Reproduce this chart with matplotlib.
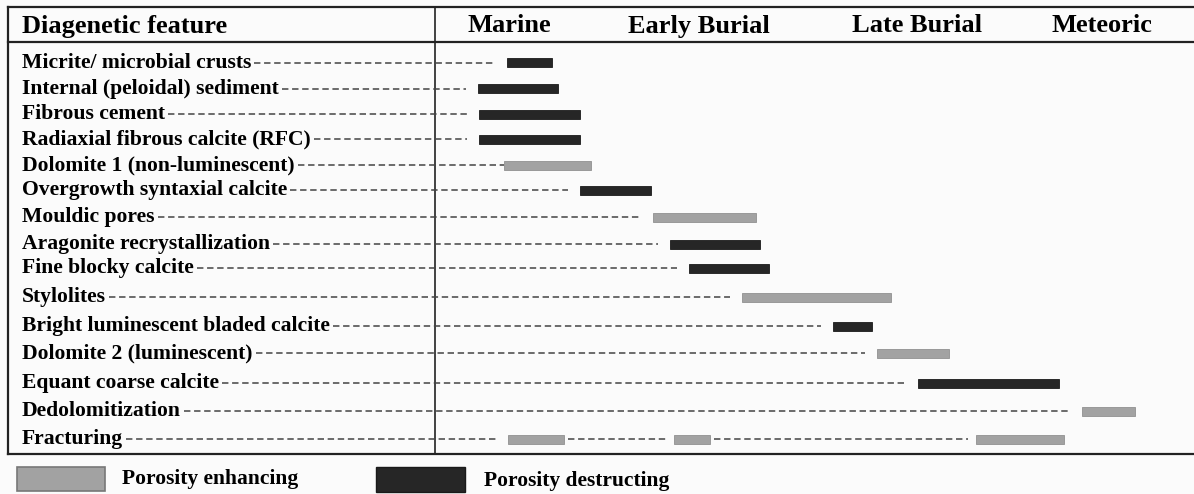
import matplotlib.pyplot as plt
from matplotlib.patches import Rectangle

# Diagenetic features (top to bottom)
features = [
    "Micrite/ microbial crusts",
    "Internal (peloidal) sediment",
    "Fibrous cement",
    "Radiaxial fibrous calcite (RFC)",
    "Dolomite 1 (non-luminescent)",
    "Overgrowth syntaxial calcite",
    "Mouldic pores",
    "Aragonite recrystallization",
    "Fine blocky calcite",
    "Stylolites",
    "Bright luminescent bladed calcite",
    "Dolomite 2 (luminescent)",
    "Equant coarse calcite",
    "Dedolomitization",
    "Fracturing",
]

# timing of each feature along the paragenetic sequence (same units as the x axis)
bar_start = [507, 478, 479, 479, 504, 580, 653, 670, 689, 742, 833, 877, 918, 1082, 508]
bar_end = [552, 558, 580, 580, 591, 651, 756, 760, 769, 891, 872, 949, 1059, 1135, 564]
# 'd' = porosity destructing, 'e' = porosity enhancing
bar_kind = ['d', 'd', 'd', 'd', 'e', 'd', 'e', 'd', 'd', 'e', 'd', 'e', 'd', 'e', 'e']

# extra fracturing episodes
frac_start = [674, 976]
frac_end = [710, 1064]

stages = ["Marine", "Early Burial", "Late Burial", "Meteoric"]
stage_x = [509, 699, 917, 1102]

colors = {'d': '#262626', 'e': '#a2a2a2'}
edges = {'d': '#1a1a1a', 'e': '#909090'}

row_y = [63, 89, 114, 139, 165, 190, 217, 244, 268, 297, 326, 353, 383, 411, 439]

fig = plt.figure(figsize=(11.94, 4.94), dpi=100)
fig.patch.set_facecolor('#fbfbfb')
ax = fig.add_axes([0, 0, 1, 1])
ax.set_xlim(0, 1194)
ax.set_ylim(494, 0)
ax.axis('off')
ax.set_facecolor('#fbfbfb')

font = dict(family='Liberation Serif', weight='bold')
line_col = '#222222'

# table frame
ax.plot([8, 1194], [7, 7], color=line_col, lw=1.6)
ax.plot([8, 1194], [42, 42], color=line_col, lw=1.6)
ax.plot([8, 1194], [454, 454], color=line_col, lw=1.6)
ax.plot([8, 8], [7, 454], color=line_col, lw=1.6)
ax.plot([435, 435], [7, 454], color=line_col, lw=1.2)

ax.text(22, 26, "Diagenetic feature", fontsize=19, va='center', ha='left', **font)
for s, x in zip(stages, stage_x):
    ax.text(x, 26, s, fontsize=19, va='center', ha='center', **font)

labels = []
for name, y in zip(features, row_y):
    labels.append(ax.text(22, y, name, fontsize=15.6, va='center', ha='left', **font))

# bars
for y, s, e, k in zip(row_y, bar_start, bar_end, bar_kind):
    ax.barh(y, e - s, left=s, height=9, color=colors[k], edgecolor=edges[k], lw=0.6)
fy = row_y[-1]
for s, e in zip(frac_start, frac_end):
    ax.barh(fy, e - s, left=s, height=9, color=colors['e'], edgecolor=edges['e'], lw=0.6)

# dashed leaders from label to bar
fig.canvas.draw()
r = fig.canvas.get_renderer()
inv = ax.transData.inverted()
dash = dict(color='#444444', lw=1.1, ls=(0, (4.2, 2.4)))
for i, (t, y, s) in enumerate(zip(labels, row_y, bar_start)):
    bb = t.get_window_extent(r)
    x0 = inv.transform((bb.x1, 0))[0] + 3
    gap = 0 if i == 4 else 12
    ax.plot([x0, s - gap], [y, y], **dash)
prev_end = bar_end[-1]
for s, e in zip(frac_start, frac_end):
    ax.plot([prev_end + 4, s - 8], [fy, fy], **dash)
    prev_end = e

# legend
ax.add_patch(Rectangle((17, 467), 88, 24, facecolor='#a2a2a2', edgecolor='#777777', lw=1.2))
ax.text(122, 479, "Porosity enhancing", fontsize=15.5, va='center', ha='left', **font)
ax.add_patch(Rectangle((376, 467), 89, 25, facecolor='#262626', edgecolor='#1a1a1a', lw=1.0))
ax.text(484, 481, "Porosity destructing", fontsize=15.5, va='center', ha='left', **font)

fig.savefig('out.png', dpi=100, facecolor=fig.get_facecolor())
